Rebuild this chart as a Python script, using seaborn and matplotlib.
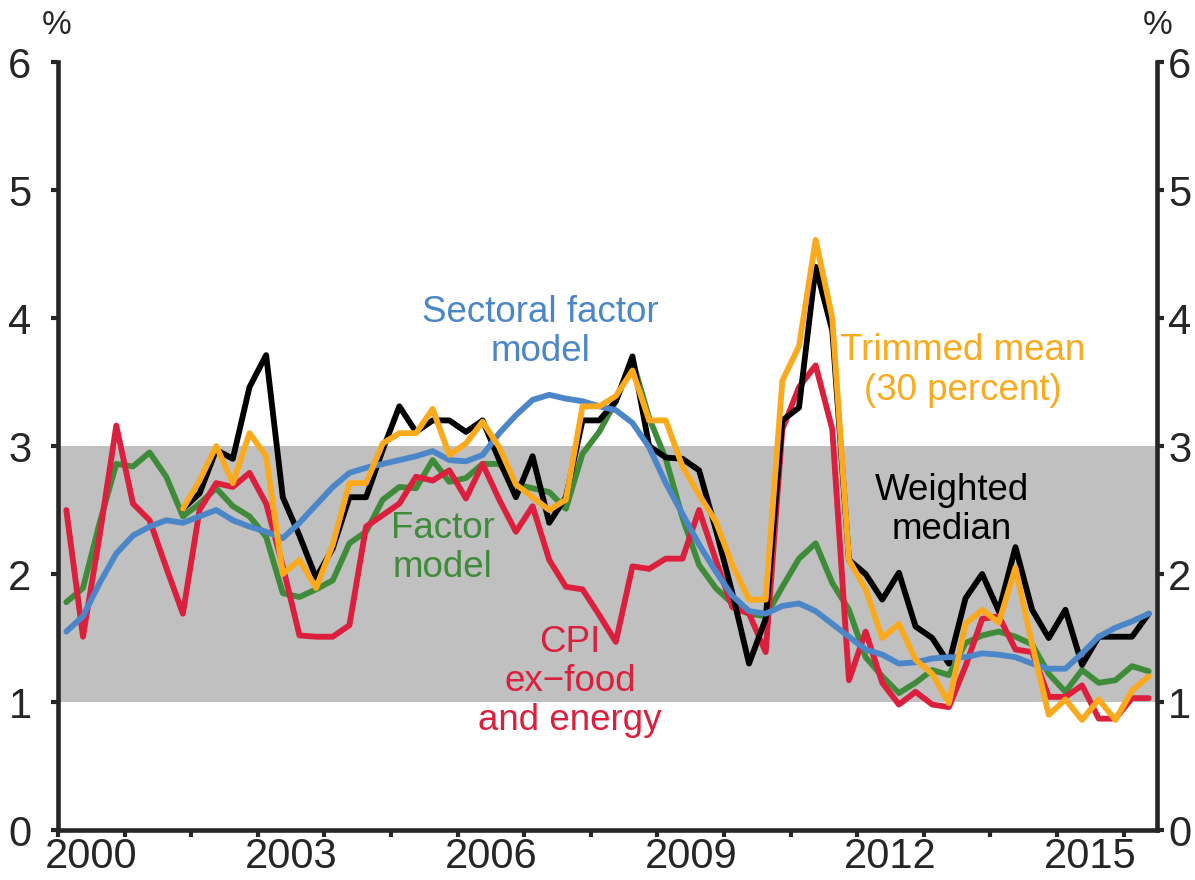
import matplotlib
matplotlib.use("Agg")
import numpy as np
import pandas as pd
from matplotlib import pyplot as plt
import seaborn as sns

# quarterly, 2000Q1 .. 2016Q2
quarters = pd.period_range("2000Q1", "2016Q2", freq="Q").astype(str).tolist()

cpi_core = [2.50, 1.51, 2.30, 3.16, 2.55, 2.42, 2.05, 1.69, 2.50, 2.71, 2.68, 2.79,
            2.55, 2.06, 1.52, 1.51, 1.51, 1.60, 2.37, 2.46, 2.55, 2.76, 2.73, 2.81,
            2.59, 2.86, 2.58, 2.33, 2.53, 2.11, 1.90, 1.88, 1.68, 1.47, 2.06, 2.04,
            2.12, 2.12, 2.50, 2.11, 1.74, 1.69, 1.39, 3.13, 3.46, 3.63, 3.13, 1.17,
            1.55, 1.15, 0.98, 1.08, 0.98, 0.96, 1.28, 1.65, 1.67, 1.41, 1.39, 1.04,
            1.04, 1.13, 0.87, 0.87, 1.03, 1.03]

factor_model = [1.78, 1.89, 2.40, 2.86, 2.84, 2.95, 2.76, 2.45, 2.55, 2.67, 2.53, 2.45,
                2.29, 1.85, 1.82, 1.88, 1.95, 2.24, 2.33, 2.58, 2.68, 2.67, 2.89, 2.72,
                2.75, 2.86, 2.86, 2.70, 2.67, 2.64, 2.51, 2.94, 3.11, 3.35, 3.67, 3.22,
                2.90, 2.44, 2.07, 1.89, 1.77, 1.69, 1.67, 1.90, 2.12, 2.24, 1.93, 1.72,
                1.35, 1.20, 1.07, 1.15, 1.25, 1.21, 1.46, 1.52, 1.55, 1.51, 1.45, 1.22,
                1.08, 1.25, 1.15, 1.17, 1.28, 1.24]

sectoral = [1.55, 1.67, 1.93, 2.16, 2.30, 2.37, 2.42, 2.40, 2.45, 2.50, 2.42, 2.37,
            2.33, 2.28, 2.40, 2.54, 2.68, 2.79, 2.83, 2.86, 2.89, 2.92, 2.96, 2.89,
            2.88, 2.93, 3.10, 3.24, 3.36, 3.40, 3.37, 3.35, 3.31, 3.28, 3.18, 2.99,
            2.71, 2.47, 2.23, 2.02, 1.83, 1.71, 1.69, 1.75, 1.77, 1.71, 1.61, 1.51,
            1.41, 1.37, 1.30, 1.31, 1.34, 1.35, 1.35, 1.38, 1.37, 1.35, 1.30, 1.26,
            1.26, 1.38, 1.51, 1.58, 1.63, 1.69]

weighted_median = [None] * 7 + [
    2.51, 2.63, 2.97, 2.90, 3.46, 3.71, 2.60, 2.30, 1.97, 2.20, 2.60, 2.60, 2.97,
    3.31, 3.11, 3.20, 3.20, 3.11, 3.20, 2.89, 2.60, 2.92, 2.40, 2.60, 3.20, 3.20,
    3.35, 3.70, 3.00, 2.91, 2.90, 2.81, 2.35, 1.85, 1.30, 1.65, 3.20, 3.30, 4.40,
    3.90, 2.11, 2.00, 1.80, 2.01, 1.59, 1.50, 1.30, 1.81, 2.00, 1.71, 2.21, 1.72,
    1.50, 1.72, 1.29, 1.51, 1.51, 1.51, 1.69]

trimmed_mean = [None] * 7 + [
    2.51, 2.73, 3.00, 2.71, 3.10, 2.92, 2.00, 2.11, 1.89, 2.23, 2.71, 2.71, 3.02,
    3.10, 3.10, 3.29, 2.93, 3.02, 3.19, 2.99, 2.70, 2.60, 2.50, 2.58, 3.31, 3.31,
    3.39, 3.59, 3.20, 3.20, 2.84, 2.62, 2.41, 2.07, 1.80, 1.80, 3.51, 3.78, 4.61,
    4.00, 2.11, 1.88, 1.50, 1.61, 1.33, 1.22, 0.99, 1.61, 1.72, 1.62, 2.05, 1.45,
    0.90, 1.02, 0.86, 1.02, 0.86, 1.09, 1.20]

year_labels = ["2000", "2003", "2006", "2009", "2012", "2015"]

series = {
    "Factor model": factor_model,
    "CPI ex-food and energy": cpi_core,
    "Weighted median": weighted_median,
    "Sectoral factor model": sectoral,
    "Trimmed mean": trimmed_mean,
}
colors = {
    "Factor model": "#3E8B3A",
    "CPI ex-food and energy": "#DC1F3C",
    "Weighted median": "#000000",
    "Sectoral factor model": "#4A86C8",
    "Trimmed mean": "#FBAA1D",
}

rows = []
for name, vals in series.items():
    for i, v in enumerate(vals):
        rows.append({"idx": i, "quarter": quarters[i], "series": name,
                     "value": np.nan if v is None else v})
df = pd.DataFrame(rows).dropna()

sns.set_style("ticks")
plt.rcParams["font.family"] = ["Liberation Sans", "DejaVu Sans"]

fig = plt.figure(figsize=(11.95, 8.8), dpi=100)
ax = fig.add_axes([58 / 1195, 50 / 880, (1157 - 58) / 1195, (830 - 62) / 880])

ax.axhspan(1, 3, color="#C0C0C0", lw=0, zorder=0)

sns.lineplot(data=df, x="idx", y="value", hue="series",
             hue_order=list(series.keys()), palette=colors,
             linewidth=4.2, legend=False, ax=ax, zorder=3)

n = len(quarters)
ax.set_xlim(-0.5, n - 0.5)
ax.set_ylim(0, 6)
ax.set_xlabel("")
ax.set_ylabel("")

ax.set_xticks(np.arange(-0.5, n - 0.5 + 0.01, 4))
ax.set_xticklabels([])
ax.set_xticks([1.5 + 12 * k for k in range(len(year_labels))], minor=True)
ax.set_xticklabels(year_labels, minor=True)
ax.tick_params(axis="x", which="major", direction="out", length=5, width=3)
ax.tick_params(axis="x", which="minor", length=0, pad=5, labelsize=30)

ax.set_yticks(range(7))
ax.tick_params(axis="y", direction="out", length=5, width=3, pad=14, labelsize=30)

ax2 = ax.twinx()
ax2.set_ylim(0, 6)
ax2.set_yticks(range(7))
ax2.tick_params(axis="y", direction="out", length=5, width=3, pad=3, labelsize=30)

for a in (ax, ax2):
    a.spines["top"].set_visible(False)
    for s in ("left", "right", "bottom"):
        a.spines[s].set_linewidth(3.3)
ax.spines["right"].set_visible(False)
ax2.spines["left"].set_visible(False)
ax2.spines["bottom"].set_visible(False)

fs = 26.5
ls = 1.15
ax.text(28.45, 3.89, "Sectoral factor\nmodel", color=colors["Sectoral factor model"],
        fontsize=fs, ha="center", va="center", linespacing=ls)
ax.text(22.6, 2.2, "Factor\nmodel", color=colors["Factor model"],
        fontsize=fs, ha="center", va="center", linespacing=ls)
ax.text(30.25, 1.16, "CPI\nex\u2212food\nand energy", color=colors["CPI ex-food and energy"],
        fontsize=fs, ha="center", va="center", linespacing=ls)
ax.text(53.85, 3.59, "Trimmed mean\n(30 percent)", color=colors["Trimmed mean"],
        fontsize=fs, ha="center", va="center", linespacing=ls)
ax.text(53.2, 2.5, "Weighted\nmedian", color="black",
        fontsize=fs, ha="center", va="center", linespacing=ls)

fig.text(57 / 1195, 1 - 25 / 880, "%", fontsize=24, ha="center", va="center")
fig.text(1158 / 1195, 1 - 25 / 880, "%", fontsize=24, ha="center", va="center")

fig.savefig("out.png", dpi=100)
